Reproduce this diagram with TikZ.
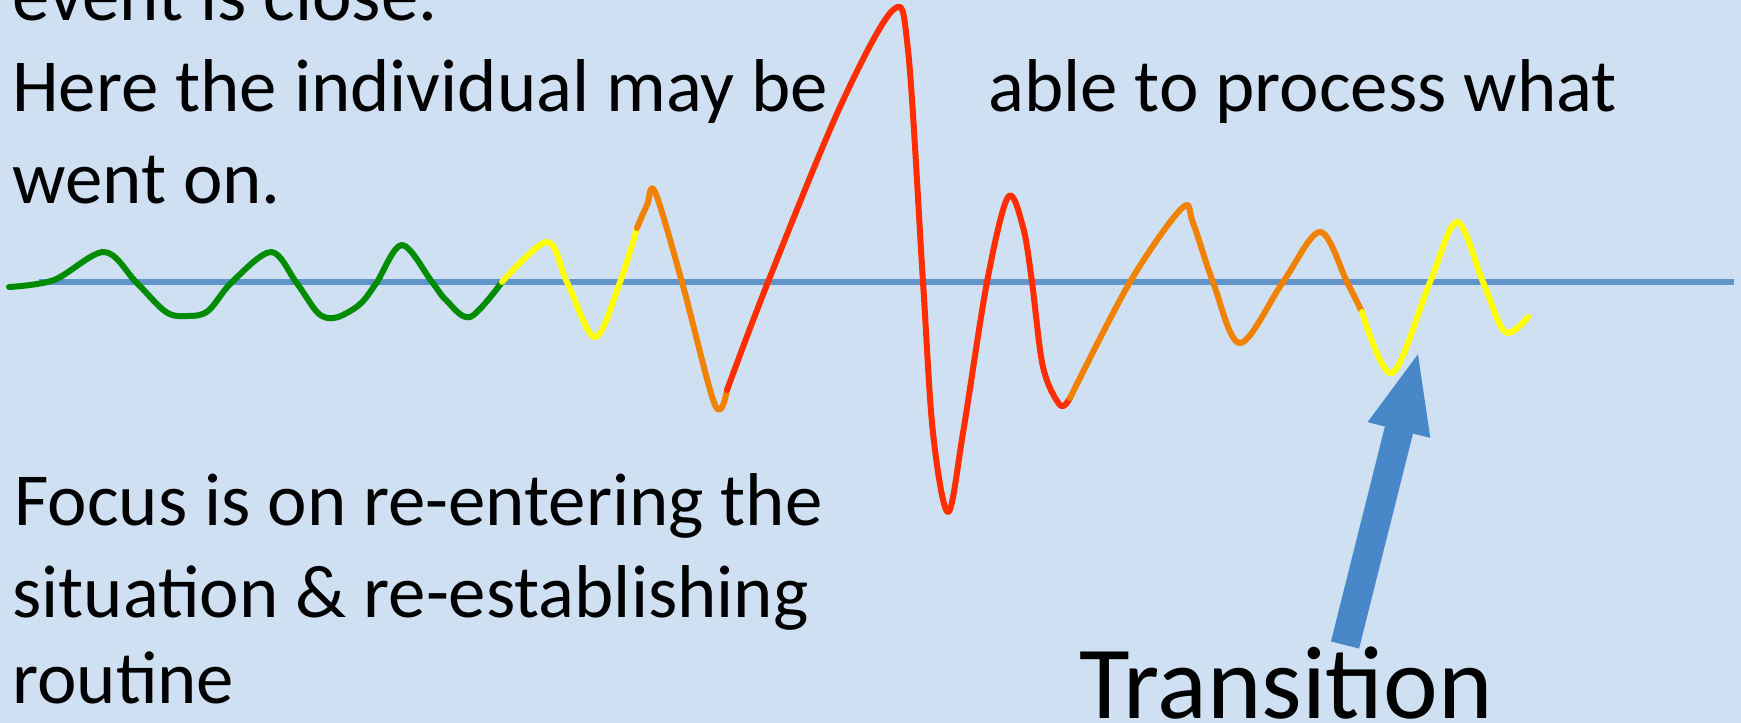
\documentclass[tikz,border=0pt]{standalone}
\usepackage{fontspec}
\setmainfont{Carlito}
\usepackage{tikz}
\usetikzlibrary{arrows.meta}
\definecolor{slidebg}{RGB}{207,224,242}
\definecolor{axisblue}{RGB}{96,148,202}
\definecolor{wavegreen}{RGB}{0,140,0}
\definecolor{waveyellow}{RGB}{255,255,0}
\definecolor{waveorange}{RGB}{240,130,0}
\definecolor{wavered}{RGB}{255,45,0}
\definecolor{arrowblue}{RGB}{72,136,200}

\begin{document}
\begin{tikzpicture}[
  x=0.02cm, y=-0.02cm,
  label/.style={anchor=base west,inner sep=0pt,font=\fontsize{42.6}{52}\selectfont},
  biglabel/.style={anchor=base west,inner sep=0pt,font=\fontsize{59}{70}\selectfont},
  wave/.style={line width=0.12cm,line cap=round,line join=round},
  pointer/.style={-{Triangle[length=1.65cm,width=1.15cm]},line width=0.58cm,arrowblue}
]
  \fill[slidebg] (0,0) rectangle (1741,723);
  \useasboundingbox (0,0) rectangle (1741,723);

  % baseline
  \coordinate (axisL) at (39,282);
  \coordinate (axisR) at (1734,282);
  \draw[axisblue,line width=0.11cm] (axisL) -- (axisR);

  % the wave, coloured piece by piece
  \draw[wave,wavegreen] plot[smooth,tension=0.55] coordinates {
    (9,287) (54,280) (104,252) (136,282) (166,312) (188,316) (208,311)
    (232,282) (271,252) (296,282) (318,313) (334,318) (352,310) (364,300)
    (377,282) (402,245) (432,282) (446,300) (470,317) (502,282)};
  \draw[wave,waveyellow] plot[smooth,tension=0.55] coordinates {
    (502,282) (547,242) (567,282) (595,337) (620,282) (637,228)};
  \draw[wave,waveorange] plot[smooth,tension=0.55] coordinates {
    (637,228) (647,205) (655,192) (682,282) (715,405) (727,390)};
  \draw[wave,wavered] plot[smooth,tension=0.55] coordinates {
    (727,390) (768,282) (840,107) (893,10) (908,50) (923,282) (933,433)
    (948,512) (963,433) (987,282) (1008,197) (1023,227) (1032,282)
    (1043,367) (1060,405) (1070,398)};
  \draw[wave,waveorange] plot[smooth,tension=0.55] coordinates {
    (1070,398) (1130,282) (1182,208) (1193,223) (1213,282) (1240,343)
    (1283,282) (1320,232) (1347,282) (1362,312)};
  \draw[wave,waveyellow] plot[smooth,tension=0.55] coordinates {
    (1362,312) (1392,373) (1430,282) (1457,222) (1483,282) (1505,332)
    (1528,317)};

  % texts
  \node[label] (event) at (12,21) {event is close.};
  \node[label] (here) at (12,112) {Here the individual may be};
  \node[label] (able) at (988,112) {able to process what};
  \node[label] (went) at (12,203) {went on.};
  \node[label] (focus) at (14,525) {Focus is on re-entering the};
  \node[label] (situ) at (12,617) {situation \& re-establishing};
  \node[label] (routine) at (12,703) {routine};
  \node[biglabel] (trans) at (1079,718) {Transition};

  % pointer to the last dip
  \coordinate (tail) at (1345,645);
  \coordinate (dip) at (1419,350);
  \draw[pointer] (tail) -- (dip);
\end{tikzpicture}
\end{document}
